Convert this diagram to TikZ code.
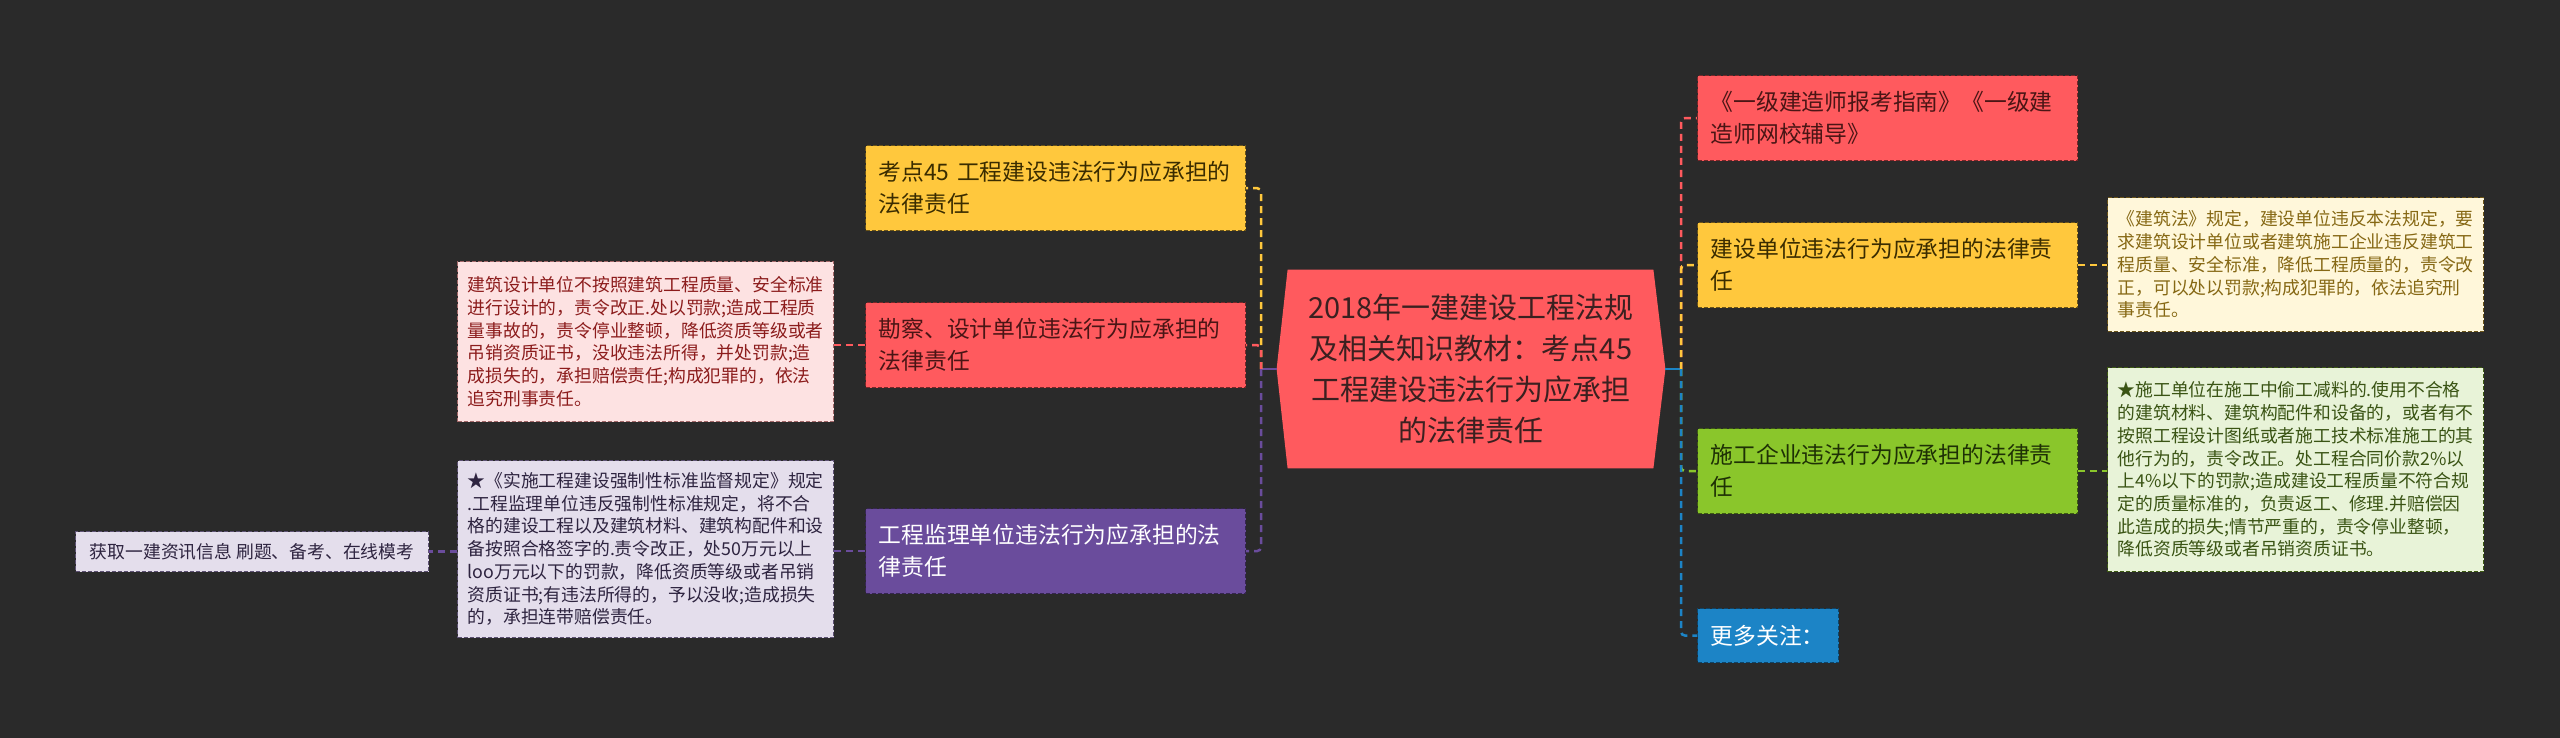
\documentclass[tikz,border=0pt]{standalone}
\usepackage{fontspec}
\setmainfont{Noto Sans CJK SC}
\usetikzlibrary{backgrounds,calc}
\definecolor{bgc}{HTML}{2A2A2A}
\definecolor{cred}{HTML}{FF5A5E}
\definecolor{credd}{HTML}{7A2628}
\definecolor{credt}{HTML}{4A1515}
\definecolor{cyellow}{HTML}{FFC83D}
\definecolor{cyellowd}{HTML}{6B5418}
\definecolor{cyellowt}{HTML}{3A2C00}
\definecolor{cpurple}{HTML}{6A4C9C}
\definecolor{cpurpled}{HTML}{352550}
\definecolor{cgreen}{HTML}{8AC62B}
\definecolor{cgreend}{HTML}{3D5A12}
\definecolor{cgreent}{HTML}{1E3005}
\definecolor{cblue}{HTML}{1C84C6}
\definecolor{cblued}{HTML}{0E4468}
\definecolor{cpink}{HTML}{FDE2E2}
\definecolor{cpinkt}{HTML}{8C1C1C}
\definecolor{clav}{HTML}{E4DEEC}
\definecolor{clavt}{HTML}{2E2440}
\definecolor{ccream}{HTML}{FFF7DA}
\definecolor{ccreamt}{HTML}{866814}
\definecolor{clgreen}{HTML}{E8F3D8}
\definecolor{clgreent}{HTML}{3A5414}
\definecolor{cctr}{HTML}{3B2020}
\tikzset{
  mainbox/.style={rectangle, anchor=north west, text width=177pt, inner xsep=6.5pt,
    inner ysep=0pt, minimum height=42.5pt, align=left,
    font=\fontsize{11.4}{16}\selectfont, line width=0.6pt, dash pattern=on 2pt off 1pt},
  descbox/.style={rectangle, anchor=north west, text width=178pt, inner xsep=5pt,
    inner ysep=0pt, align=left, font=\fontsize{8.9}{11.35}\selectfont,
    line width=0.6pt, dash pattern=on 2pt off 1pt},
  conn/.style={line width=1.25pt, dash pattern=on 3.5pt off 2.5pt, rounded corners=2pt},
  stub/.style={line width=1.25pt},
}
\begin{document}
\begin{tikzpicture}[x=0.5pt,y=-0.5pt]
\useasboundingbox (0,0) rectangle (2560,738);

% central
\node[rectangle, minimum width=194pt, minimum height=99pt, inner sep=0pt, align=center,
  text=cctr, font=\fontsize{14.5}{20.5}\selectfont] (c) at (1471,369)
  {2018年一建建设工程法规\\及相关知识教材：考点45\\工程建设违法行为应承担\\的法律责任};

% left branch
\node[mainbox, fill=cyellow, draw=cyellowd, text=cyellowt] (kd) at (865,145)
  {考点45~工程建设违法行为应承担的\\法律责任};
\node[mainbox, fill=cred, draw=credd, text=credt] (kc) at (865,302)
  {勘察、设计单位违法行为应承担的\\法律责任};
\node[mainbox, fill=cpurple, draw=cpurpled, text=white] (jl) at (865,508)
  {工程监理单位违法行为应承担的法\\律责任};

\node[descbox, fill=cpink, draw=credd!70, text=cpinkt, minimum height=80pt] (kcd) at (457,261)
  {建筑设计单位不按照建筑工程质量、安全标准\\进行设计的，责令改正.处以罚款;造成工程质\\量事故的，责令停业整顿，降低资质等级或者\\吊销资质证书，没收违法所得，并处罚款;造\\成损失的，承担赔偿责任;构成犯罪的，依法\\追究刑事责任。};
\node[descbox, fill=clav, draw=cpurpled!80, text=clavt, minimum height=88.5pt] (jld) at (457,460)
  {★《实施工程建设强制性标准监督规定》规定\\.工程监理单位违反强制性标准规定，将不合\\格的建设工程以及建筑材料、建筑构配件和设\\备按照合格签字的.责令改正，处50万元以上\\loo万元以下的罚款，降低资质等级或者吊销\\资质证书;有违法所得的，予以没收;造成损失\\的，承担连带赔偿责任。};
\node[rectangle, anchor=north west, fill=clav, draw=cpurpled!80, text=clavt,
  line width=0.6pt, dash pattern=on 2pt off 1pt, minimum width=176.5pt, minimum height=20pt,
  inner sep=0pt, font=\fontsize{8.9}{11.35}\selectfont] (hq) at (75,531)
  {获取一建资讯信息 刷题、备考、在线模考};

% right branch
\node[mainbox, fill=cred, draw=credd, text=credt] (yj) at (1697,75)
  {《一级建造师报考指南》《一级建\\造师网校辅导》};
\node[mainbox, fill=cyellow, draw=cyellowd, text=cyellowt] (js) at (1697,222)
  {建设单位违法行为应承担的法律责\\任};
\node[mainbox, fill=cgreen, draw=cgreend, text=cgreent] (sg) at (1697,428)
  {施工企业违法行为应承担的法律责\\任};
\node[mainbox, fill=cblue, draw=cblued, text=white, text width=57.5pt, minimum height=27pt] (gd) at (1697,608)
  {更多关注：};

\node[descbox, fill=ccream, draw=cyellowd, text=ccreamt, minimum height=67pt] (jzf) at (2107,197)
  {《建筑法》规定，建设单位违反本法规定，要\\求建筑设计单位或者建筑施工企业违反建筑工\\程质量、安全标准，降低工程质量的，责令改\\正，可以处以罚款;构成犯罪的，依法追究刑\\事责任。};
\node[descbox, fill=clgreen, draw=cgreend, text=clgreent, minimum height=102pt] (sgd) at (2107,367)
  {★施工单位在施工中偷工减料的.使用不合格\\的建筑材料、建筑构配件和设备的，或者有不\\按照工程设计图纸或者施工技术标准施工的其\\他行为的，责令改正。处工程合同价款2\%以\\上4\%以下的罚款;造成建设工程质量不符合规\\定的质量标准的，负责返工、修理.并赔偿因\\此造成的损失;情节严重的，责令停业整顿，\\降低资质等级或者吊销资质证书。};

% background and hexagon
\begin{scope}[on background layer]
  \fill[bgc] (0,0) rectangle (2560,738);
  \fill[cred] (c.west) -- ($(c.north west)+(11,0)$) -- ($(c.north east)+(-12,0)$)
    -- (c.east) -- ($(c.south east)+(-12,0)$) -- ($(c.south west)+(11,0)$) -- cycle;
\end{scope}

% connectors
\coordinate (LJ) at (1261,369);
\coordinate (RJ) at (1681,369);
\draw[stub, cpurple] (c.west) -- (LJ);
\draw[conn, cyellow] (LJ) |- (kd.east);
\draw[conn, cred] (LJ) |- (kc.east);
\draw[conn, cpurple] (LJ) |- (jl.east);
\draw[conn, cred] (kc.west) -- (kc.west -| kcd.east);
\draw[conn, cpurple] (jl.west) -- (jl.west -| jld.east);
\draw[conn, cpurple] (jld.west |- hq.east) -- (hq.east);

\draw[stub, cblue] (c.east) -- (RJ);
\draw[conn, cred] (RJ) |- (yj.west);
\draw[conn, cyellow] (RJ) |- (js.west);
\draw[conn, cgreen] (RJ) |- (sg.west);
\draw[conn, cblue] (RJ) |- (gd.west);
\draw[conn, cyellow] (js.east) -- (js.east -| jzf.west);
\draw[conn, cgreen] (sg.east) -- (sg.east -| sgd.west);
\end{tikzpicture}
\end{document}
